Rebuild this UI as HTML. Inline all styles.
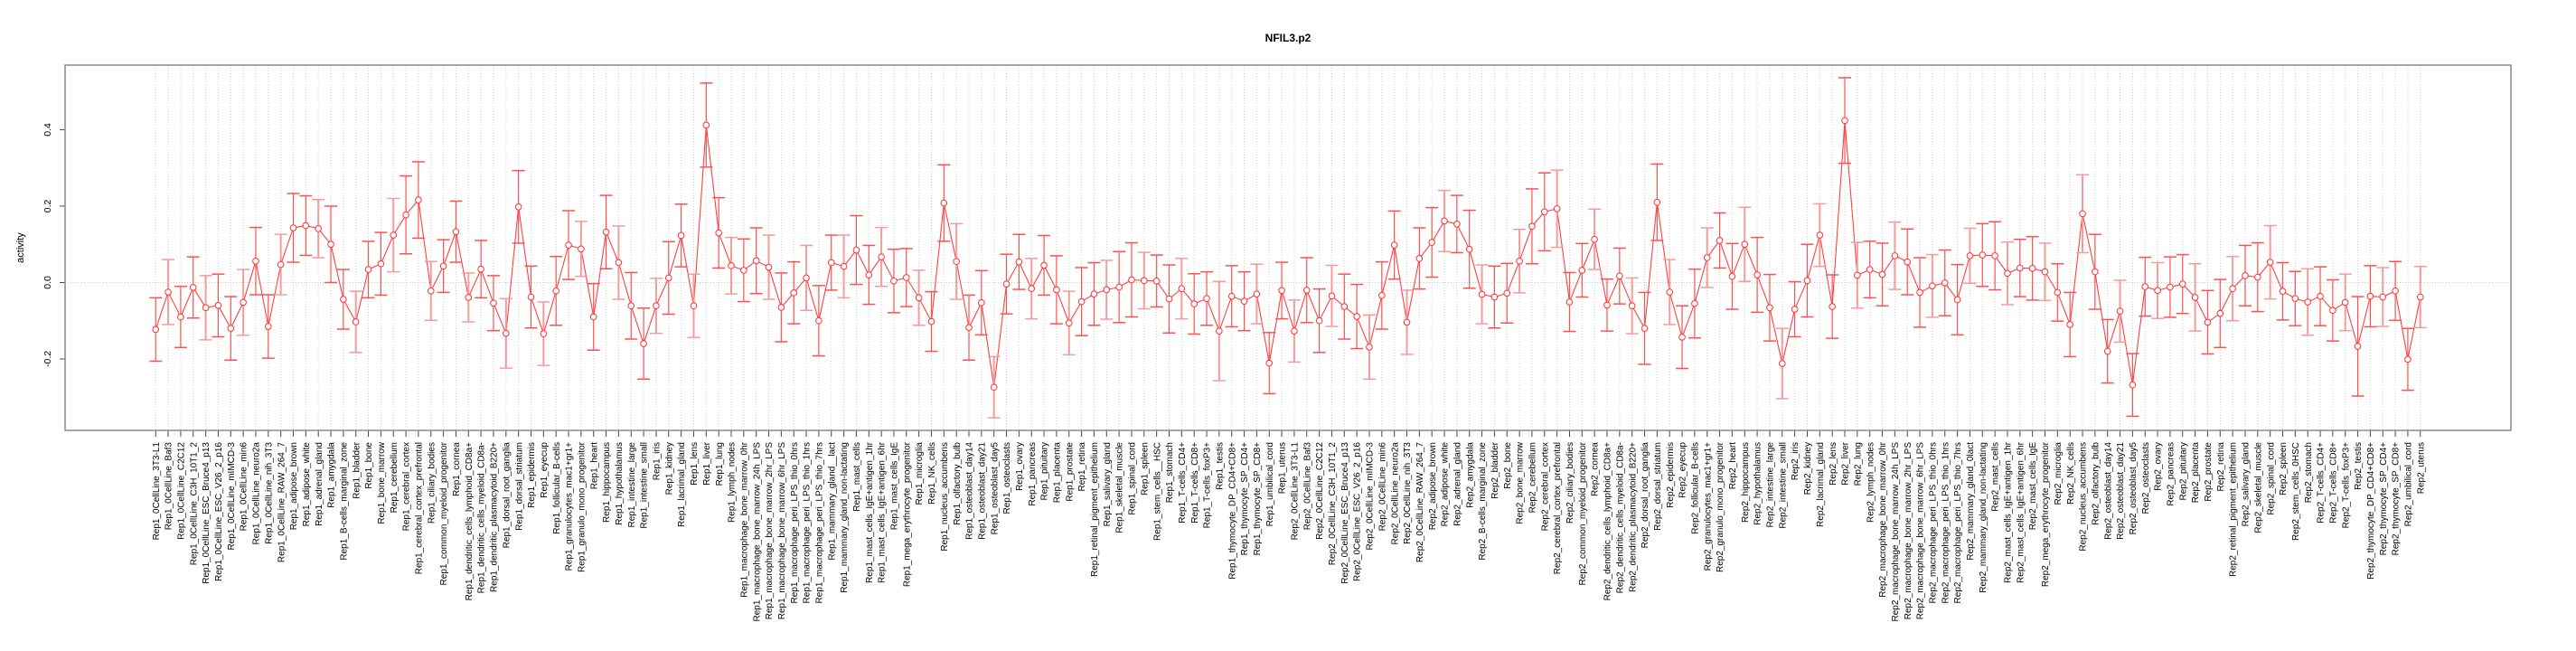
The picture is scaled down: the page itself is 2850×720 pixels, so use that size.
<!DOCTYPE html>
<html><head><meta charset="utf-8"><title>NFIL3.p2</title>
<style>
html,body{margin:0;padding:0;background:#fff;}
svg{display:block;font-family:"Liberation Sans",Arial,sans-serif;}
</style></head>
<body>
<svg id="chart" width="2850" height="720" viewBox="0 0 2850 720" xmlns="http://www.w3.org/2000/svg">
<text x="1425" y="46" text-anchor="middle" font-size="12" font-weight="bold">NFIL3.p2</text>
<text x="0" y="0" transform="translate(26,274) rotate(-90)" text-anchor="middle" font-size="11">activity</text>
<g id="grid"></g>
<g id="yaxis"></g>
<g id="xaxis"></g>
<g id="series"></g>
<rect x="72" y="72" width="2706" height="404" fill="none" stroke="#8a8a8a" stroke-width="1.5"/>
</svg>
<script>
const tissues1 = ["0CellLine_3T3-L1","0CellLine_Baf3","0CellLine_C2C12","0CellLine_C3H_10T1_2","0CellLine_ESC_Bruce4_p13","0CellLine_ESC_V26_2_p16","0CellLine_mIMCD-3","0CellLine_min6","0CellLine_neuro2a","0CellLine_nih_3T3","0CellLine_RAW_264_7","adipose_brown","adipose_white","adrenal_gland","amygdala","B-cells_marginal_zone","bladder","bone","bone_marrow","cerebellum","cerebral_cortex","cerebral_cortex_prefrontal","ciliary_bodies","common_myeloid_progenitor","cornea","dendritic_cells_lymphoid_CD8a+","dendritic_cells_myeloid_CD8a-","dendritic_plasmacytoid_B220+","dorsal_root_ganglia","dorsal_striatum","epidermis","eyecup","follicular_B-cells","granulocytes_mac1+gr1+","granulo_mono_progenitor","heart","hippocampus","hypothalamus","intestine_large","intestine_small","iris","kidney","lacrimal_gland","lens","liver","lung","lymph_nodes","macrophage_bone_marrow_0hr","macrophage_bone_marrow_24h_LPS","macrophage_bone_marrow_2hr_LPS","macrophage_bone_marrow_6hr_LPS","macrophage_peri_LPS_thio_0hrs","macrophage_peri_LPS_thio_1hrs","macrophage_peri_LPS_thio_7hrs","mammary_gland__lact","mammary_gland_non-lactating","mast_cells","mast_cells_IgE+antigen_1hr","mast_cells_IgE+antigen_6hr","mast_cells_IgE","mega_erythrocyte_progenitor","microglia","NK_cells","nucleus_accumbens","olfactory_bulb","osteoblast_day14","osteoblast_day21","osteoblast_day5","osteoclasts","ovary","pancreas","pituitary","placenta","prostate","retina","retinal_pigment_epithelium","salivary_gland","skeletal_muscle","spinal_cord","spleen","stem_cells__HSC","stomach","T-cells_CD4+","T-cells_CD8+","T-cells_foxP3+","testis","thymocyte_DP_CD4+CD8+","thymocyte_SP_CD4+","thymocyte_SP_CD8+","umbilical_cord","uterus"];
const tissues2 = tissues1.map(t => t === "mammary_gland__lact" ? "mammary_gland_0lact" : (t === "stem_cells__HSC" ? "stem_cells_0HSC" : t));
const categories = tissues1.map(t => "Rep1_" + t).concat(tissues2.map(t => "Rep2_" + t));
const meansRep1 = [-0.123,-0.025,-0.09,-0.013,-0.066,-0.06,-0.12,-0.052,0.056,-0.115,0.047,0.143,0.149,0.141,0.10,-0.044,-0.103,0.034,0.049,0.124,0.177,0.216,-0.022,0.043,0.133,-0.039,0.035,-0.054,-0.133,0.198,-0.038,-0.134,-0.022,0.098,0.088,-0.09,0.132,0.052,-0.061,-0.16,-0.061,0.012,0.123,-0.061,0.412,0.13,0.044,0.032,0.057,0.04,-0.065,-0.027,0.012,-0.1,0.052,0.042,0.085,0.02,0.067,0.004,0.013,-0.04,-0.102,0.208,0.055,-0.118,-0.053,-0.274,-0.004,0.054,-0.016,0.045,-0.019,-0.106,-0.05,-0.03,-0.019,-0.012,0.007,0.005,0.004,-0.043,-0.016,-0.056,-0.042,-0.127,-0.036,-0.049,-0.03,-0.211,-0.021];
const errsRep1 = [0.083,0.085,0.08,0.08,0.084,0.082,0.083,0.086,0.088,0.083,0.079,0.09,0.078,0.076,0.10,0.078,0.08,0.074,0.082,0.096,0.102,0.10,0.077,0.069,0.08,0.064,0.075,0.072,0.091,0.095,0.081,0.083,0.09,0.09,0.072,0.087,0.096,0.096,0.087,0.093,0.072,0.095,0.082,0.083,0.11,0.092,0.074,0.082,0.086,0.084,0.09,0.081,0.085,0.092,0.072,0.082,0.09,0.077,0.077,0.083,0.076,0.072,0.078,0.10,0.099,0.085,0.084,0.08,0.078,0.072,0.079,0.078,0.089,0.083,0.089,0.082,0.077,0.093,0.097,0.074,0.068,0.089,0.079,0.079,0.07,0.13,0.08,0.077,0.078,0.08,0.074];
const meansRep2 = [-0.127,-0.02,-0.1,-0.035,-0.063,-0.089,-0.169,-0.034,0.098,-0.104,0.063,0.105,0.161,0.153,0.087,-0.031,-0.038,-0.028,0.056,0.147,0.185,0.193,-0.051,0.032,0.113,-0.059,0.017,-0.061,-0.12,0.21,-0.025,-0.143,-0.055,0.065,0.11,0.016,0.1,0.02,-0.066,-0.212,-0.07,0.005,0.124,-0.063,0.424,0.019,0.034,0.021,0.07,0.054,-0.026,-0.009,-0.001,-0.045,0.07,0.072,0.07,0.024,0.038,0.037,0.028,-0.026,-0.11,0.18,0.028,-0.18,-0.075,-0.268,-0.011,-0.021,-0.012,-0.004,-0.039,-0.104,-0.081,-0.016,0.018,0.014,0.053,-0.023,-0.042,-0.051,-0.036,-0.073,-0.052,-0.167,-0.036,-0.038,-0.022,-0.201,-0.038];
const errsRep2 = [0.081,0.085,0.083,0.08,0.085,0.084,0.084,0.088,0.089,0.084,0.08,0.091,0.08,0.075,0.102,0.077,0.081,0.078,0.083,0.098,0.102,0.101,0.077,0.07,0.079,0.068,0.073,0.073,0.094,0.1,0.085,0.082,0.09,0.078,0.072,0.086,0.097,0.098,0.087,0.092,0.072,0.095,0.082,0.083,0.112,0.086,0.074,0.082,0.088,0.086,0.091,0.082,0.086,0.092,0.072,0.082,0.089,0.082,0.075,0.083,0.075,0.075,0.084,0.102,0.098,0.083,0.081,0.082,0.077,0.073,0.079,0.077,0.088,0.083,0.089,0.084,0.079,0.09,0.096,0.075,0.071,0.087,0.077,0.08,0.074,0.13,0.08,0.077,0.077,0.081,0.08];
const yTicks = [-0.2, 0.0, 0.2, 0.4];
const yTickLabels = ["-0.2", "0.0", "0.2", "0.4"];

const means = meansRep1.concat(meansRep2);
const errs = errsRep1.concat(errsRep2);
const NS = "http://www.w3.org/2000/svg";
const L = 72, R = 2778, T = 72, B = 476;
const n = categories.length;
const pad = (n - 1) * 0.04;
function xScale(i) { return L + (i + pad) / ((n - 1) + 2 * pad) * (R - L); }
const yMin = -0.387, yMax = 0.569;
function yScale(v) { return B - (v - yMin) / (yMax - yMin) * (B - T); }
function mk(tag, attrs, parent) {
  const e = document.createElementNS(NS, tag);
  for (const k in attrs) e.setAttribute(k, attrs[k]);
  parent.appendChild(e);
  return e;
}
const grid = document.getElementById('grid');
const yaxis = document.getElementById('yaxis');
const xaxis = document.getElementById('xaxis');
const series = document.getElementById('series');

// vertical grid + x ticks + labels
for (let i = 0; i < n; i++) {
  const x = xScale(i);
  const g = mk('line', {x1: x, x2: x, y1: T, y2: B, stroke: '#d0d0d0', 'stroke-width': 1, 'stroke-dasharray': '1,2'}, grid);
  
  
  const t = mk('line', {x1: x, x2: x, y1: B, y2: B + 7, stroke: '#444', 'stroke-width': 1}, xaxis);
  
  
  const lb = mk('text', {x: 0, y: 0, transform: 'translate(' + (x + 3.6) + ',' + 489 + ') rotate(-90)', 'text-anchor': 'end', 'font-size': 10, fill: '#000'}, xaxis);
  lb.textContent = categories[i];
  
  
}
// zero line
const z = mk('line', {x1: L, x2: R, y1: yScale(0), y2: yScale(0), stroke: '#c8c8c8', 'stroke-width': 1, 'stroke-dasharray': '1,2'}, grid);


// y axis ticks
for (let k = 0; k < yTicks.length; k++) {
  const y = yScale(yTicks[k]);
  const t = mk('line', {x1: L - 6, x2: L, y1: y, y2: y, stroke: '#444', 'stroke-width': 1}, yaxis);
  
  
  const lb = mk('text', {x: 0, y: 0, transform: 'translate(' + 56 + ',' + y + ') rotate(-90)', 'text-anchor': 'middle', 'font-size': 10.5}, yaxis);
  lb.textContent = yTickLabels[k];
  
  
}
// connecting line
let d = '';
for (let i = 0; i < n; i++) d += (i ? 'L' : 'M') + xScale(i).toFixed(2) + ',' + yScale(means[i]).toFixed(2);
const ln = mk('path', {d: d, fill: 'none', stroke: '#ff4040', 'stroke-width': 1.1}, series);


// error bars
for (let i = 0; i < n; i++) {
  const x = xScale(i);
  const y1 = yScale(means[i] + errs[i]), y2 = yScale(means[i] - errs[i]);
  const col = (i % 3 === 1) ? '#f79a9a' : '#ff5050';
  const w = (i % 3 === 1) ? 2 : 1.2;
  const eb = mk('g', {}, series);
  
  
  mk('line', {x1: x, x2: x, y1: y1, y2: y2, stroke: col, 'stroke-width': w}, eb);
  mk('line', {x1: x - 7, x2: x + 7, y1: y1, y2: y1, stroke: col, 'stroke-width': 1.5}, eb);
  mk('line', {x1: x - 7, x2: x + 7, y1: y2, y2: y2, stroke: col, 'stroke-width': 1.5}, eb);
}
// points
for (let i = 0; i < n; i++) {
  const c = mk('circle', {cx: xScale(i), cy: yScale(means[i]), r: 3.3, fill: '#fff', stroke: '#ff3030', 'stroke-width': 1}, series);
  
  
}
</script>
</body></html>
